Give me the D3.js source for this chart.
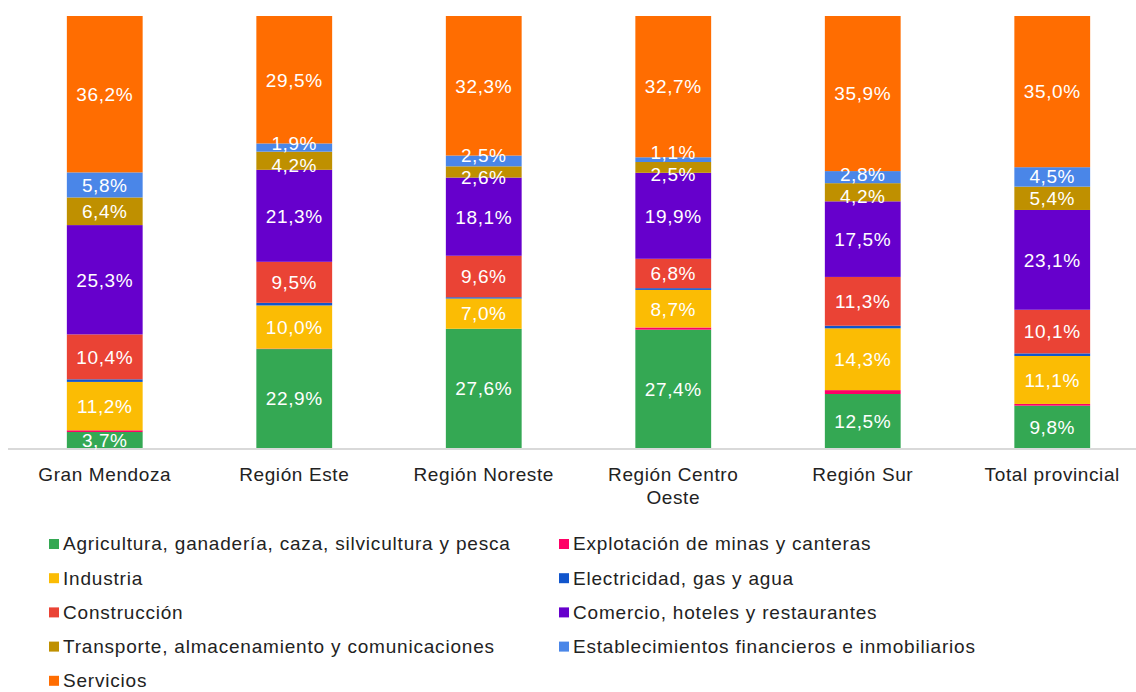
<!DOCTYPE html>
<html>
<head>
<meta charset="utf-8">
<script src="https://cdn.jsdelivr.net/npm/d3@7"></script>
<style>
  body { margin: 0; background: #fff; }
  svg { font-family: "Liberation Sans", Arial, sans-serif; }
</style>
</head>
<body>
<svg id="chart" width="1136" height="692"></svg>
<script>
// regions on the x axis
var regions = ["Gran Mendoza", "Región Este", "Región Noreste", "Región Centro Oeste", "Región Sur", "Total provincial"];

// sectors, bottom to top
var sectors = [
  "Agricultura, ganadería, caza, silvicultura y pesca",
  "Explotación de minas y  canteras",
  "Industria",
  "Electricidad, gas y agua",
  "Construcción",
  "Comercio, hoteles y restaurantes",
  "Transporte, almacenamiento y comunicaciones",
  "Establecimientos financieros e inmobiliarios",
  "Servicios"
];

var colors = ["#34a853", "#ff0066", "#fbbc04", "#1155cc", "#ea4335", "#6600cc", "#bf9000", "#4a86e8", "#ff6d01"];

// percentage per sector, one value per region
var agricultura   = [3.7, 22.9, 27.6, 27.4, 12.5, 9.8];
var minas         = [0.4, 0.1, 0.0, 0.5, 0.9, 0.4];
var industria     = [11.2, 10.0, 7.0, 8.7, 14.3, 11.1];
var electricidad  = [0.6, 0.6, 0.3, 0.4, 0.6, 0.6];
var construccion  = [10.4, 9.5, 9.6, 6.8, 11.3, 10.1];
var comercio      = [25.3, 21.3, 18.1, 19.9, 17.5, 23.1];
var transporte    = [6.4, 4.2, 2.6, 2.5, 4.2, 5.4];
var financieros   = [5.8, 1.9, 2.5, 1.1, 2.8, 4.5];
var servicios     = [36.2, 29.5, 32.3, 32.7, 35.9, 35.0];

var series = [agricultura, minas, industria, electricidad, construccion, comercio, transporte, financieros, servicios];

var svg = d3.select("#chart");

var rows = regions.map(function (r, i) {
  var o = { region: r };
  sectors.forEach(function (s, j) { o[s] = series[j][i]; });
  return o;
});

var stack = d3.stack().keys(sectors).offset(d3.stackOffsetExpand);
var layers = stack(rows);

var x = d3.scaleBand().domain(regions).range([10, 1147]).paddingInner(0.6).paddingOuter(0.3);
var y = d3.scaleLinear().domain([0, 1]).range([448, 16]);

// baseline
svg.append("line")
  .attr("x1", 8).attr("x2", 1136)
  .attr("y1", 449).attr("y2", 449)
  .attr("stroke", "#d9d9d9").attr("stroke-width", 2);

var layer = svg.selectAll("g.layer")
  .data(layers)
  .enter().append("g")
  .attr("class", "layer")
  .attr("fill", function (d, i) { return colors[i]; });

layer.selectAll("rect")
  .data(function (d) { return d; })
  .enter().append("rect")
  .attr("x", function (d) { return x(d.data.region); })
  .attr("width", x.bandwidth())
  .attr("y", function (d) { return y(d[1]); })
  .attr("height", function (d) { return y(d[0]) - y(d[1]); });

// value labels, pushed apart when segments are thin
var minGap = 22;
regions.forEach(function (r, ri) {
  var labs = [];
  layers.forEach(function (l, i) {
    var v = series[i][ri];
    if (v < 1) return;
    var d = l[ri];
    labs.push({ v: v, cy: (y(d[0]) + y(d[1])) / 2 });
  });
  // labs go bottom to top (cy decreasing)
  for (var it = 0; it < 20; it++) {
    for (var k = 0; k < labs.length - 1; k++) {
      var a = labs[k], b = labs[k + 1];
      var gap = a.cy - b.cy;
      if (gap < minGap) {
        var shift = (minGap - gap) / 2;
        a.cy += shift;
        b.cy -= shift;
      }
    }
  }
  labs.forEach(function (lb) {
    svg.append("text")
      .attr("x", x(r) + x.bandwidth() / 2)
      .attr("y", lb.cy)
      .attr("dy", "0.36em")
      .attr("text-anchor", "middle")
      .attr("fill", "#fff")
      .attr("font-size", 19)
      .attr("letter-spacing", 0.6)
      .text(lb.v.toFixed(1).replace(".", ",") + "%");
  });
});

// category labels
regions.forEach(function (r) {
  var lines = r === "Región Centro Oeste" ? ["Región Centro", "Oeste"] : [r];
  var t = svg.append("text")
    .attr("x", x(r) + x.bandwidth() / 2)
    .attr("y", 481)
    .attr("text-anchor", "middle")
    .attr("fill", "#222")
    .attr("font-size", 19)
    .attr("letter-spacing", 0.6);
  lines.forEach(function (s, k) {
    t.append("tspan")
      .attr("x", x(r) + x.bandwidth() / 2)
      .attr("dy", k === 0 ? 0 : 23)
      .text(s);
  });
});

// legend, two columns
var legend = svg.append("g");
sectors.forEach(function (s, i) {
  var col = i % 2, row = Math.floor(i / 2);
  var lx = col === 0 ? 49 : 559;
  var ly = 544 + row * 34.2;
  legend.append("rect")
    .attr("x", lx).attr("y", ly - 5)
    .attr("width", 10).attr("height", 10)
    .attr("fill", colors[i]);
  legend.append("text")
    .attr("x", lx + 14).attr("y", ly)
    .attr("dy", "0.34em")
    .attr("fill", "#222")
    .attr("font-size", 19)
    .attr("letter-spacing", 0.8)
    .text(s);
});
</script>
</body>
</html>
